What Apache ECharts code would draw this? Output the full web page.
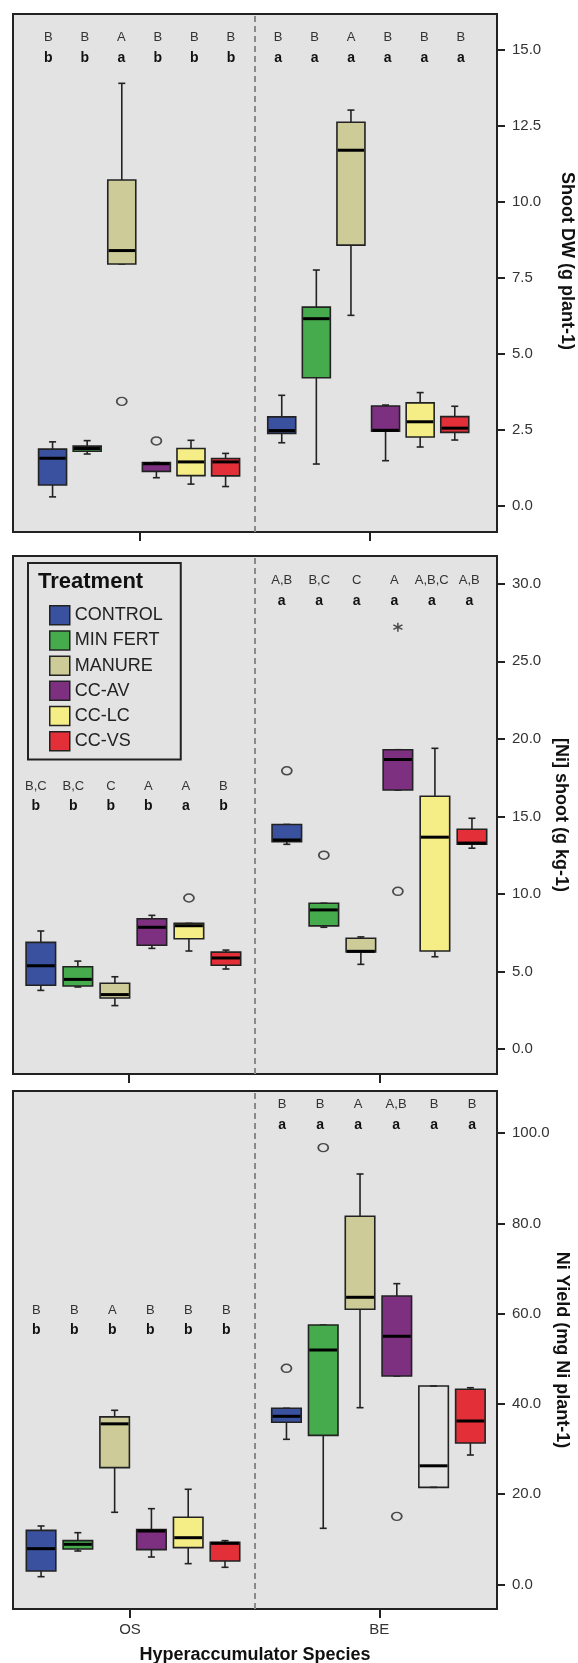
<!DOCTYPE html>
<html>
<head>
<meta charset="utf-8">
<script src="https://cdn.jsdelivr.net/npm/echarts@6/dist/echarts.min.js"></script>
<style>
  html, body { margin: 0; padding: 0; background: #ffffff; }
  #chart { width: 578px; height: 1663px; }
</style>
</head>
<body>
<div id="chart"></div>
<script>
// ---- Categories -------------------------------------------------------
const treatments = ['CONTROL', 'MIN FERT', 'MANURE', 'CC-AV', 'CC-LC', 'CC-VS'];
const species = ['OS', 'BE'];
const treatmentColors = ['#3a519f', '#45ab4d', '#cdcc98', '#7d2f80', '#f5ed85', '#e32f38'];

// ---- Shoot DW (g plant-1): [min, Q1, median, Q3, max] per treatment ----
const shootDW_OS = [
  [0.30, 0.69, 1.57, 1.87, 2.11],
  [1.71, 1.80, 1.89, 1.97, 2.15],
  [7.96, 7.96, 8.40, 10.72, 13.90],
  [0.93, 1.14, 1.39, 1.43, 1.43],
  [0.72, 1.00, 1.45, 1.89, 2.16],
  [0.64, 0.99, 1.45, 1.56, 1.73]
];
const shootDW_BE = [
  [2.08, 2.39, 2.48, 2.93, 3.64],
  [1.38, 4.22, 6.16, 6.54, 7.76],
  [6.27, 8.58, 11.70, 12.62, 13.02],
  [1.49, 2.46, 2.49, 3.29, 3.32],
  [1.94, 2.27, 2.77, 3.39, 3.73],
  [2.17, 2.42, 2.56, 2.94, 3.28]
];
// outliers: [species index, treatment index, value]
const shootDW_outliers = [[0, 2, 3.44], [0, 3, 2.14]];
const shootDW_extremes = [];
const shootDW_groupOS = ['B', 'B', 'A', 'B', 'B', 'B'];
const shootDW_letterOS = ['b', 'b', 'a', 'b', 'b', 'b'];
const shootDW_groupBE = ['B', 'B', 'A', 'B', 'B', 'B'];
const shootDW_letterBE = ['a', 'a', 'a', 'a', 'a', 'a'];
const shootDW_ticks = [0, 2.5, 5, 7.5, 10, 12.5, 15];

// ---- [Ni] shoot (g kg-1) ----------------------------------------------
const niShoot_OS = [
  [3.78, 4.11, 5.37, 6.88, 7.61],
  [4.00, 4.06, 4.49, 5.31, 5.67],
  [2.80, 3.29, 3.51, 4.24, 4.66],
  [6.49, 6.69, 7.85, 8.40, 8.62],
  [6.32, 7.11, 7.95, 8.10, 8.10],
  [5.16, 5.40, 5.87, 6.25, 6.38]
];
const niShoot_BE = [
  [13.20, 13.37, 13.48, 14.48, 14.48],
  [7.85, 7.94, 8.97, 9.40, 9.40],
  [5.46, 6.26, 6.30, 7.14, 7.23],
  [16.70, 16.70, 18.67, 19.30, 19.30],
  [5.95, 6.32, 13.66, 16.30, 19.39],
  [12.95, 13.20, 13.28, 14.17, 14.88]
];
const niShoot_outliers = [[0, 4, 9.74], [1, 0, 17.94], [1, 1, 12.50], [1, 3, 10.17]];
const niShoot_extremes = [[1, 3, 27.2]];
const niShoot_groupOS = ['B,C', 'B,C', 'C', 'A', 'A', 'B'];
const niShoot_letterOS = ['b', 'b', 'b', 'b', 'a', 'b'];
const niShoot_groupBE = ['A,B', 'B,C', 'C', 'A', 'A,B,C', 'A,B'];
const niShoot_letterBE = ['a', 'a', 'a', 'a', 'a', 'a'];
const niShoot_ticks = [0, 5, 10, 15, 20, 25, 30];

// ---- Ni Yield (mg Ni plant-1) -----------------------------------------
const niYield_OS = [
  [1.73, 2.99, 7.94, 12.00, 12.96],
  [7.42, 7.87, 8.90, 9.71, 11.48],
  [16.00, 25.90, 35.60, 37.15, 38.60],
  [6.09, 7.72, 11.85, 12.15, 16.80],
  [4.62, 8.16, 10.37, 14.89, 21.10],
  [3.81, 5.21, 9.12, 9.34, 9.71]
];
const niYield_BE = [
  [32.17, 35.94, 37.27, 39.04, 39.04],
  [12.45, 33.05, 51.96, 57.50, 57.50],
  [39.18, 60.98, 63.64, 81.60, 90.96],
  [46.20, 46.20, 55.00, 63.93, 66.66],
  [21.53, 21.53, 26.30, 43.98, 43.98],
  [28.69, 31.35, 36.23, 43.25, 43.60]
];
const niYield_outliers = [[1, 0, 47.9], [1, 1, 96.8], [1, 3, 15.1]];
const niYield_extremes = [];
const niYield_groupOS = ['B', 'B', 'A', 'B', 'B', 'B'];
const niYield_letterOS = ['b', 'b', 'b', 'b', 'b', 'b'];
const niYield_groupBE = ['B', 'B', 'A', 'A,B', 'B', 'B'];
const niYield_letterBE = ['a', 'a', 'a', 'a', 'a', 'a'];
const niYield_ticks = [0, 20, 40, 60, 80, 100];

// ---- Panels ------------------------------------------------------------
const panels = [
  { title: 'Shoot DW (g plant-1)', stats: [shootDW_OS, shootDW_BE],
    outliers: shootDW_outliers, extremes: shootDW_extremes,
    groups: [shootDW_groupOS, shootDW_groupBE], letters: [shootDW_letterOS, shootDW_letterBE],
    ticks: shootDW_ticks },
  { title: '[Ni] shoot (g kg-1)', stats: [niShoot_OS, niShoot_BE],
    outliers: niShoot_outliers, extremes: niShoot_extremes,
    groups: [niShoot_groupOS, niShoot_groupBE], letters: [niShoot_letterOS, niShoot_letterBE],
    ticks: niShoot_ticks },
  { title: 'Ni Yield (mg Ni plant-1)', stats: [niYield_OS, niYield_BE],
    outliers: niYield_outliers, extremes: niYield_extremes,
    groups: [niYield_groupOS, niYield_groupBE], letters: [niYield_letterOS, niYield_letterBE],
    ticks: niYield_ticks }
];

// Layout of each panel; the x axis runs 0..2, one unit per species block.
const layouts = [
  { top: 14, height: 518, yMin: -0.855, yMax: 16.18,
    boxCenter: [0.521, 1.468], boxStep: 0.143, boxWidth: 28,
    letterCenter: [0.523, 1.473], letterStep: 0.151,
    letterRows: [[15.40, 14.73], [15.40, 14.73]],
    ticksX: [0.522, 1.474], nameGap: 61, namePad: [0, 24, 0, 0], hollow: [] },
  { top: 556, height: 518, yMin: -1.61, yMax: 31.79,
    boxCenter: [0.4975, 1.514], boxStep: 0.153, boxWidth: 29.5,
    letterCenter: [0.482, 1.498], letterStep: 0.155,
    letterRows: [[16.92, 15.65], [30.2, 28.88]],
    ticksX: [0.479, 1.517], nameGap: 55, namePad: [0, 0, 0, 0], hollow: [] },
  { top: 1091, height: 518, yMin: -5.43, yMax: 109.35,
    boxCenter: [0.496, 1.510], boxStep: 0.152, boxWidth: 29.5,
    letterCenter: [0.489, 1.5045], letterStep: 0.157,
    letterRows: [[60.7, 56.3], [106.3, 101.7]],
    ticksX: [0.4835, 1.5136], nameGap: 56, namePad: [0, 0, 0, 0], hollow: [[1, 4]] }
];

const FONT = '"Liberation Sans", Arial, Helvetica, sans-serif';
const INK = '#222222';

function drawBox(api, width, fill) {
  const x = api.value(0);
  const p = [1, 2, 3, 4, 5].map(function (d) { return api.coord([x, api.value(d)]); });
  const cx = p[0][0];
  const yMin = p[0][1], yQ1 = p[1][1], yMed = p[2][1], yQ3 = p[3][1], yMax = p[4][1];
  const hw = width / 2, cap = 3.5;
  function seg(x1, y1, x2, y2, w, c) {
    return { type: 'line', shape: { x1: x1, y1: y1, x2: x2, y2: y2 },
             style: { stroke: c || INK, lineWidth: w || 1.6 } };
  }
  return {
    type: 'group',
    children: [
      seg(cx, yMax, cx, yQ3),
      seg(cx, yQ1, cx, yMin),
      seg(cx - cap, yMax, cx + cap, yMax),
      seg(cx - cap, yMin, cx + cap, yMin),
      { type: 'rect', shape: { x: cx - hw, y: yQ3, width: 2 * hw, height: yQ1 - yQ3 },
        style: { fill: fill, stroke: INK, lineWidth: 1.6 } },
      seg(cx - hw + 0.8, yMed, cx + hw - 0.8, yMed, 3, '#000000')
    ]
  };
}

const grids = [], xAxes = [], yAxes = [], series = [];

panels.forEach(function (panel, pi) {
  const L = layouts[pi];
  const boxX = function (s, t) { return L.boxCenter[s] + (t - 2.5) * L.boxStep; };
  const letterX = function (s, t) { return L.letterCenter[s] + (t - 2.5) * L.letterStep; };

  grids.push({ left: 13, right: 81, top: L.top, height: L.height, show: true,
               containLabel: false, outerBoundsMode: 'none',
               backgroundColor: '#e3e3e3', borderColor: INK, borderWidth: 2 });

  xAxes.push({
    gridIndex: pi, type: 'value', min: 0, max: 2, position: 'bottom',
    axisLine: { show: false, onZero: false },
    splitLine: { show: false },
    axisTick: { show: true, inside: false, length: 9, customValues: L.ticksX,
                lineStyle: { color: INK, width: 2 } },
    axisLabel: { show: pi === 2, customValues: L.ticksX, margin: 13,
                 showMinLabel: true, showMaxLabel: true, hideOverlap: false,
                 formatter: function (v) { return v < 1 ? species[0] : species[1]; },
                 fontSize: 15, color: '#333333', fontFamily: FONT },
    name: pi === 2 ? 'Hyperaccumulator Species' : '',
    nameLocation: 'middle', nameGap: 37,
    nameTextStyle: { fontSize: 18, fontWeight: 'bold', color: '#111111', fontFamily: FONT }
  });

  yAxes.push({
    gridIndex: pi, type: 'value', position: 'right', min: L.yMin, max: L.yMax,
    axisLine: { show: true, onZero: false, lineStyle: { color: INK, width: 2 } },
    splitLine: { show: false },
    axisTick: { show: true, inside: false, length: 8, customValues: panel.ticks,
                lineStyle: { color: INK, width: 2 } },
    axisLabel: { customValues: panel.ticks, margin: 15,
                 formatter: function (v) { return Number(v).toFixed(1); },
                 fontSize: 15, color: '#333333', fontFamily: FONT },
    name: panel.title, nameLocation: 'middle', nameRotate: -90, nameGap: L.nameGap,
    nameMoveOverlap: false,
    nameTextStyle: { fontSize: 18, fontWeight: 'bold', color: '#111111', fontFamily: FONT,
                     padding: L.namePad }
  });

  // One box series per treatment (OS and BE boxes)
  treatments.forEach(function (tName, t) {
    series.push({
      type: 'custom', name: tName, xAxisIndex: pi, yAxisIndex: pi, z: 2, silent: true,
      itemStyle: { color: treatmentColors[t] },
      encode: { x: 0, y: [1, 2, 3, 4, 5] },
      data: species.map(function (sp, s) { return [boxX(s, t)].concat(panel.stats[s][t]); }),
      renderItem: function (params, api) {
        const s = params.dataIndex;
        const hollow = L.hollow.some(function (h) { return h[0] === s && h[1] === t; });
        return drawBox(api, L.boxWidth, hollow ? 'rgba(0,0,0,0)' : treatmentColors[t]);
      }
    });
  });

  // Outliers (circles) and the species divider
  series.push({
    type: 'scatter', xAxisIndex: pi, yAxisIndex: pi, z: 3, silent: true,
    symbol: 'circle', symbolSize: [10, 8],
    itemStyle: { color: 'rgba(0,0,0,0)', borderColor: INK, borderWidth: 1.6 },
    data: panel.outliers.map(function (o) { return [boxX(o[0], o[1]), o[2]]; }),
    markLine: {
      silent: true, symbol: ['none', 'none'], label: { show: false },
      lineStyle: { type: [6, 4], color: '#8a8a8a', width: 2 },
      data: [{ xAxis: 1 }]
    }
  });

  // Extreme values (asterisks)
  if (panel.extremes.length) {
    series.push({
      type: 'scatter', xAxisIndex: pi, yAxisIndex: pi, z: 3, silent: true,
      symbol: 'path://M5,0L5,10M0.67,2.5L9.33,7.5M0.67,7.5L9.33,2.5', symbolSize: 9,
      itemStyle: { color: 'rgba(0,0,0,0)', borderColor: INK, borderWidth: 1.5 },
      data: panel.extremes.map(function (o) { return [boxX(o[0], o[1]), o[2]]; })
    });
  }

  // Significance letters above each block
  const letterItems = [];
  species.forEach(function (sp, s) {
    treatments.forEach(function (tName, t) {
      letterItems.push({ x: letterX(s, t), y: L.letterRows[s][0], text: panel.groups[s][t], bold: false });
      letterItems.push({ x: letterX(s, t), y: L.letterRows[s][1], text: panel.letters[s][t], bold: true });
    });
  });
  series.push({
    type: 'custom', xAxisIndex: pi, yAxisIndex: pi, z: 4, silent: true,
    encode: { x: 0, y: 1 },
    data: letterItems.map(function (it) { return [it.x, it.y]; }),
    renderItem: function (params, api) {
      const it = letterItems[params.dataIndex];
      const pt = api.coord([api.value(0), api.value(1)]);
      return {
        type: 'text', x: pt[0], y: pt[1],
        style: {
          text: it.text, align: 'center', verticalAlign: 'middle',
          font: (it.bold ? 'bold 14px ' : '13px ') + FONT,
          fill: it.bold ? '#111111' : '#333333'
        }
      };
    }
  });
});

const chart = echarts.init(document.getElementById('chart'), null, { renderer: 'canvas' });
chart.setOption({
  animation: false,
  backgroundColor: '#ffffff',
  title: {
    text: 'Treatment', left: 38, top: 571, padding: 0,
    textStyle: { fontSize: 22, fontWeight: 'bold', color: '#111111', fontFamily: FONT }
  },
  legend: {
    data: treatments, orient: 'vertical', left: 28, top: 563,
    padding: [42, 18, 8, 21], itemWidth: 20, itemHeight: 19, itemGap: 4.7,
    icon: 'rect', selectedMode: false,
    borderColor: INK, borderWidth: 2,
    itemStyle: { borderColor: INK, borderWidth: 1.5 },
    textStyle: { fontSize: 18, color: '#222222', fontFamily: FONT }
  },
  grid: grids,
  xAxis: xAxes,
  yAxis: yAxes,
  series: series
});
</script>
</body>
</html>
